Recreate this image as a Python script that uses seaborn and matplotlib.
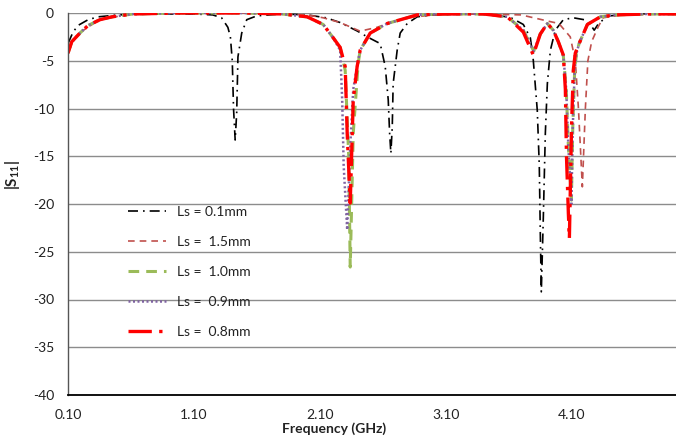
import matplotlib
matplotlib.use("Agg")
import matplotlib.pyplot as plt
import seaborn as sns
import pandas as pd

# ---------------- data ----------------
labels = ["Ls = 0.1mm", "Ls =  1.5mm", "Ls =  1.0mm", "Ls =  0.9mm", "Ls =  0.8mm"]

f_01 = [0.10, 0.14, 0.18, 0.26, 0.34, 0.50, 0.80, 1.10, 1.25, 1.32, 1.37, 1.39,
        1.405, 1.415, 1.428, 1.440, 1.450, 1.48, 1.52, 1.60, 1.80, 2.00, 2.15,
        2.262, 2.40, 2.477, 2.58, 2.62, 2.644, 2.655, 2.665, 2.676, 2.683, 2.715,
        2.739, 2.795, 2.874, 3.00, 3.30, 3.50, 3.62, 3.717, 3.773, 3.796, 3.828,
        3.844, 3.852, 3.860, 3.876, 3.892, 3.908, 3.932, 3.971, 4.035, 4.114,
        4.20, 4.25, 4.28, 4.32, 4.40, 4.60, 4.93]
s_01 = [-3.2, -2.0, -1.3, -0.7, -0.4, -0.2, -0.1, -0.1, -0.2, -0.5, -1.5, -2.5,
        -5.0, -10.0, -13.3, -10.5, -4.6, -2.1, -0.7, -0.3, -0.1, -0.2, -0.5,
        -1.0, -1.9, -2.5, -3.2, -5.6, -9.1, -12.6, -14.7, -11.9, -7.4, -3.9,
        -2.1, -1.1, -0.4, -0.2, -0.1, -0.2, -0.5, -1.2, -2.6, -4.9, -10.2,
        -16.0, -23.0, -29.2, -21.4, -12.6, -7.4, -3.9, -1.8, -0.7, -0.5,
        -0.7, -1.2, -1.8, -1.0, -0.3, -0.1, -0.1]

f_15 = [0.10, 0.14, 0.20, 0.35, 0.60, 1.00, 1.50, 2.00, 2.127, 2.262, 2.42,
        2.556, 2.66, 2.795, 3.00, 3.40, 3.70, 3.93, 4.00, 4.09, 4.13, 4.155,
        4.186, 4.21, 4.23, 4.26, 4.31, 4.35, 4.50, 4.93]
s_15 = [-4.1, -3.0, -2.0, -0.7, -0.1, 0.0, 0.0, -0.2, -0.5, -1.0, -1.9,
        -1.5, -1.0, -0.5, -0.2, -0.1, -0.2, -0.9, -1.1, -2.5, -5.0, -10.0,
        -18.2, -10.0, -5.0, -3.0, -1.5, -0.5, -0.2, -0.1]

f_10 = [0.10, 0.13, 0.195, 0.26, 0.354, 0.45, 0.617, 1.00, 1.50, 1.80, 2.00,
        2.127, 2.207, 2.262, 2.302, 2.330, 2.342, 2.366, 2.405, 2.421, 2.501,
        2.636, 2.874, 3.10, 3.40, 3.59, 3.717, 3.800, 3.852, 3.908, 3.955,
        3.995, 4.035, 4.058, 4.075, 4.099, 4.110, 4.125, 4.140, 4.160, 4.226,
        4.329, 4.45, 4.70, 4.93]
s_10 = [-4.2, -3.0, -2.1, -1.3, -0.7, -0.4, -0.1, 0.0, 0.0, -0.1, -0.4,
        -1.2, -2.6, -3.6, -6.0, -15.0, -26.6, -12.6, -5.3, -3.9, -2.1,
        -1.1, -0.2, -0.1, -0.1, -0.4, -1.8, -4.0, -2.2, -1.1, -1.8,
        -3.0, -4.5, -8.0, -14.0, -19.6, -12.0, -6.0, -4.2, -3.2, -1.2,
        -0.4, -0.2, -0.1, -0.1]

f_09 = [0.10, 0.13, 0.195, 0.26, 0.354, 0.45, 0.617, 1.00, 1.50, 1.80, 2.00,
        2.127, 2.207, 2.262, 2.278, 2.290, 2.318, 2.342, 2.366, 2.400, 2.421,
        2.501, 2.636, 2.874, 3.10, 3.40, 3.59, 3.717, 3.800, 3.852, 3.908,
        3.955, 3.995, 4.035, 4.058, 4.075, 4.099, 4.110, 4.125, 4.140, 4.160,
        4.226, 4.329, 4.45, 4.70, 4.93]
s_09 = [-4.2, -3.0, -2.1, -1.3, -0.7, -0.4, -0.1, 0.0, 0.0, -0.1, -0.4,
        -1.2, -2.6, -3.9, -9.0, -16.0, -22.7, -14.0, -8.0, -5.3, -3.9,
        -2.1, -1.1, -0.2, -0.1, -0.1, -0.4, -1.8, -4.0, -2.2, -1.1,
        -1.8, -3.0, -4.5, -8.0, -14.0, -20.0, -12.0, -6.0, -4.2, -3.2,
        -1.2, -0.4, -0.2, -0.1, -0.1]

f_08 = [0.10, 0.13, 0.195, 0.26, 0.354, 0.45, 0.617, 1.00, 1.50, 1.80, 2.00,
        2.127, 2.207, 2.262, 2.302, 2.318, 2.342, 2.366, 2.397, 2.421, 2.501,
        2.636, 2.874, 3.10, 3.40, 3.59, 3.717, 3.796, 3.852, 3.908, 3.955,
        3.995, 4.035, 4.051, 4.060, 4.075, 4.083, 4.100, 4.114, 4.130, 4.154,
        4.226, 4.329, 4.45, 4.70, 4.93]
s_08 = [-4.2, -3.0, -2.1, -1.3, -0.7, -0.4, -0.1, 0.0, 0.0, -0.1, -0.4,
        -1.2, -2.6, -3.6, -5.6, -12.6, -19.9, -9.1, -5.6, -3.9, -2.1,
        -1.1, -0.2, -0.1, -0.1, -0.4, -2.0, -4.4, -2.2, -1.1, -1.8,
        -3.0, -4.4, -8.0, -15.0, -21.0, -23.6, -12.0, -6.0, -4.2, -3.4,
        -1.2, -0.4, -0.2, -0.1, -0.1]

x_ticks = [0.10, 1.10, 2.10, 3.10, 4.10]
x_tick_labels = ["0.10", "1.10", "2.10", "3.10", "4.10"]
y_ticks = [0, -5, -10, -15, -20, -25, -30, -35, -40]

# ---------------- styling ----------------
sns.set_theme(style="white")
plt.rcParams["font.family"] = ["Lato", "DejaVu Sans"]
plt.rcParams["mathtext.fontset"] = "custom"
plt.rcParams["mathtext.rm"] = "Lato:bold"
plt.rcParams["mathtext.it"] = "Lato:bold"
plt.rcParams["mathtext.bf"] = "Lato:bold"

series = [
    (f_01, s_01, "#000000", 1.2, (0, (6, 3, 1, 3))),
    (f_15, s_15, "#C0504D", 1.2, (0, (4, 3))),
    (f_10, s_10, "#9BBB59", 2.2, (0, (3.5, 2.3))),
    (f_09, s_09, "#8064A2", 1.8, (0, (0.8, 1.0))),
    (f_08, s_08, "#FF0000", 2.4, (0, (7, 2.2, 1, 2.2))),
]

fig = plt.figure(figsize=(6.76, 4.41), dpi=100)
ax = fig.add_axes([68 / 676, 1 - 395 / 441, 608 / 676, 382 / 441])

for (fx, sy, col, lw, ls), lab in zip(series, labels):
    df = pd.DataFrame({"f": fx, "s": sy})
    sns.lineplot(data=df, x="f", y="s", ax=ax, color=col, linewidth=lw,
                 linestyle=ls, label=lab, estimator=None, sort=False)

ax.set_xlim(0.10, 4.93)
ax.set_ylim(-40, 0)
ax.set_xticks(x_ticks)
ax.set_xticklabels(x_tick_labels)
ax.set_yticks(y_ticks)
ax.set_yticklabels([str(v) for v in y_ticks])
ax.tick_params(axis="both", length=0, labelsize=10, colors="#222222")
ax.tick_params(axis="y", pad=10)
ax.tick_params(axis="x", pad=10)

ax.yaxis.grid(True, color="#8C8C8C", linewidth=1.0)
ax.xaxis.grid(False)
ax.set_axisbelow(True)
for side in ["top", "right"]:
    ax.spines[side].set_visible(False)
ax.spines["left"].set_color("#555555")
ax.spines["left"].set_linewidth(1.0)
ax.spines["bottom"].set_color("#000000")
ax.spines["bottom"].set_linewidth(1.3)

ax.set_xlabel("Frequency (GHz)", fontsize=10, fontweight="bold", color="#222222")
ax.xaxis.set_label_coords((334 - 68) / 608, -0.072)
ax.set_ylabel(r"|S$_{11}$|", fontsize=11, fontweight="bold", color="#222222")
ax.yaxis.set_label_coords(-0.076, 0.576)

leg = ax.legend(loc="upper left", bbox_to_anchor=(0.09, 0.51), frameon=False,
                fontsize=10, handlelength=2.7, handletextpad=0.8,
                labelspacing=1.3, borderaxespad=0)
for t in leg.get_texts():
    t.set_color("#222222")

fig.savefig("out.png", dpi=100)
